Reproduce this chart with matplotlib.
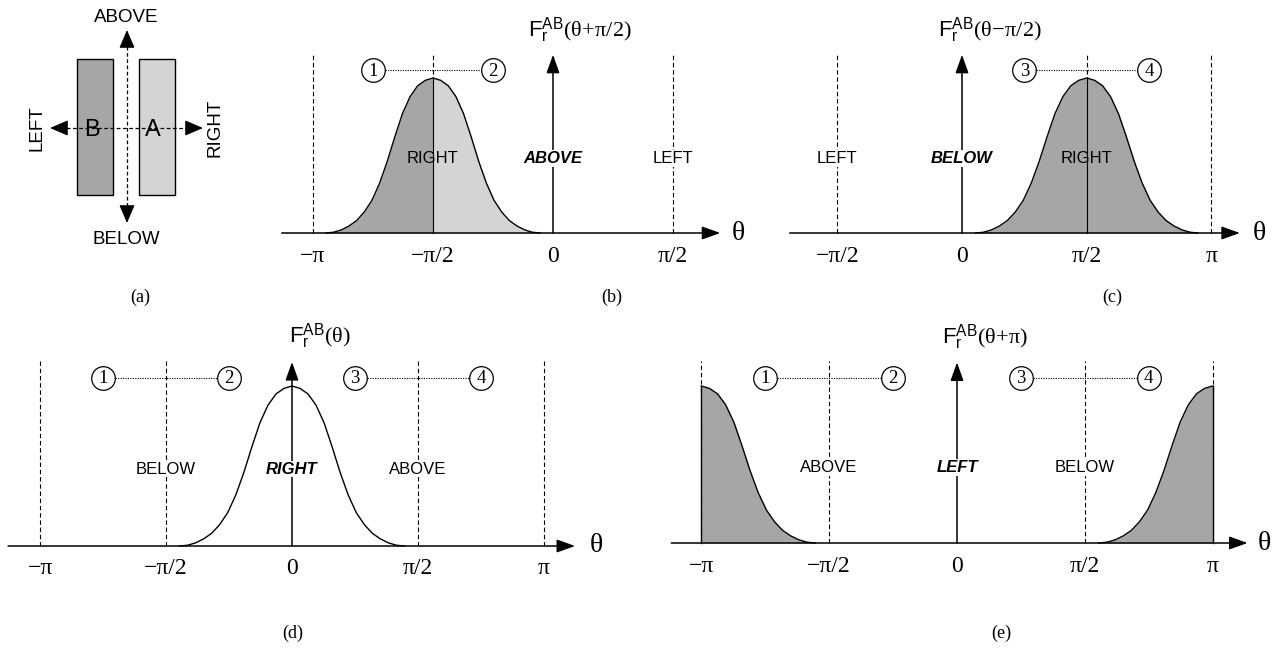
import numpy as np
import matplotlib
matplotlib.use('Agg')
import matplotlib.pyplot as plt
from matplotlib.patches import Rectangle

plt.rcParams['font.family'] = ['Liberation Sans', 'DejaVu Sans']
plt.rcParams['mathtext.fontset'] = 'custom'
plt.rcParams['mathtext.rm'] = 'Liberation Serif'
plt.rcParams['mathtext.sf'] = 'Liberation Sans'
plt.rcParams['mathtext.it'] = 'Liberation Serif:italic'

PI = np.pi
W, H = 1275, 648

# histogram of forces F_r^AB around its maximum:
# offset from the peak (rad) and normalised value
offset = np.array([0.0, 0.1, 0.2, 0.3, 0.4, 0.5, 0.6, 0.7,
                   0.8, 0.9, 1.0, 1.1, 1.2, 1.3, 1.4])
force = np.array([1.0, 0.985, 0.95, 0.88, 0.77, 0.62, 0.46, 0.32,
                  0.21, 0.135, 0.08, 0.045, 0.02, 0.005, 0.0])

# circled marks 1..4 sit at -3pi/4, -pi/4, pi/4, 3pi/4
mark_pos = [-3 * PI / 4, -PI / 4, PI / 4, 3 * PI / 4]
mark_txt = ['1', '2', '3', '4']

# panel (b): F(theta + pi/2)
b_peaks = [-PI / 2]
b_ticks = [-PI, -PI / 2, 0, PI / 2]
b_labels = ['\u2212\u03c0', '\u2212\u03c0/2', '0', '\u03c0/2']
b_regions = [('RIGHT', -PI / 2, False), ('ABOVE', 0, True), ('LEFT', PI / 2, False)]
b_marks = [0, 1]

# panel (c): F(theta - pi/2)
c_peaks = [PI / 2]
c_ticks = [-PI / 2, 0, PI / 2, PI]
c_labels = ['\u2212\u03c0/2', '0', '\u03c0/2', '\u03c0']
c_regions = [('LEFT', -PI / 2, False), ('BELOW', 0, True), ('RIGHT', PI / 2, False)]
c_marks = [2, 3]

# panel (d): F(theta)
d_peaks = [0]
d_ticks = [-PI, -PI / 2, 0, PI / 2, PI]
d_labels = ['\u2212\u03c0', '\u2212\u03c0/2', '0', '\u03c0/2', '\u03c0']
d_regions = [('BELOW', -PI / 2, False), ('RIGHT', 0, True), ('ABOVE', PI / 2, False)]
d_marks = [0, 1, 2, 3]

# panel (e): F(theta + pi), peak split over -pi and pi
e_peaks = [-PI, PI]
e_ticks = d_ticks
e_labels = d_labels
e_regions = [('ABOVE', -PI / 2, False), ('LEFT', 0, True), ('BELOW', PI / 2, False)]
e_marks = [0, 1, 2, 3]

DARK = '#a6a6a6'
LIGHT = '#d4d4d4'

fig = plt.figure(figsize=(W / 100, H / 100), dpi=100)


def panel_axes(ox, oy, sx, sy, xlim, ylim):
    # ox, oy: pixel position of the origin, sx, sy: pixels per unit
    left = (ox + xlim[0] * sx) / W
    bottom = (H - oy + ylim[0] * sy) / H
    ax = fig.add_axes([left, bottom, (xlim[1] - xlim[0]) * sx / W,
                       (ylim[1] - ylim[0]) * sy / H])
    ax.set_xlim(xlim)
    ax.set_ylim(ylim)
    ax.axis('off')
    return ax


def arrow(ax, start, tip, lw=1.1):
    ax.annotate('', xy=tip, xytext=start,
                arrowprops=dict(arrowstyle='-|>,head_length=0.7,head_width=0.25',
                                mutation_scale=16, lw=lw, color='k',
                                shrinkA=0, shrinkB=0))


def peak_curve(center, side=0):
    if side > 0:
        return center + offset, force
    if side < 0:
        return center - offset[::-1], force[::-1]
    th = np.concatenate([center - offset[::-1], center + offset[1:]])
    f = np.concatenate([force[::-1], force[1:]])
    return th, f


def draw_panel(lay, peaks, ticks, labels, regions, marks, arg, caption, style):
    ax = panel_axes(lay['ox'], lay['oy'], lay['sx'], lay['sy'],
                    lay['xlim'], lay['ylim'])
    top = 1.16
    # dashed guides at the non-zero ticks
    for t in ticks:
        if t != 0:
            ax.plot([t, t], [0, top], ls=(0, (4, 2.5)), lw=0.8, color='k', zorder=1)

    if style == 'split':
        th, f = peak_curve(peaks[0])
        c = peaks[0]
        ax.fill_between(th, 0, f, where=th <= c + 1e-9, color=DARK, lw=0, zorder=2)
        ax.fill_between(th, 0, f, where=th >= c - 1e-9, color=LIGHT, lw=0, zorder=2)
        ax.plot(th, f, color='k', lw=1.0, zorder=3)
        ax.plot([c, c], [0, 1], color='k', lw=0.8, zorder=3)
    elif style == 'fill':
        th, f = peak_curve(peaks[0])
        c = peaks[0]
        ax.fill_between(th, 0, f, color=DARK, lw=0, zorder=2)
        ax.plot(th, f, color='k', lw=1.0, zorder=3)
        ax.plot([c, c], [0, 1], color='k', lw=0.8, zorder=3)
    elif style == 'line':
        th, f = peak_curve(peaks[0])
        ax.plot(th, f, color='k', lw=1.0, zorder=3)
    else:
        for c, side in zip(peaks, [1, -1]):
            th, f = peak_curve(c, side)
            ax.fill_between(th, 0, f, color=DARK, lw=0, zorder=2)
            ax.plot(th, f, color='k', lw=1.0, zorder=3)
            ax.plot([c, c], [0, 1], color='k', lw=1.0, zorder=3)

    # theta axis and force axis
    arrow(ax, (lay['axis'][0], 0), (lay['axis'][1], 0))
    ax.text(lay['theta_x'], 0, '\u03b8', fontsize=20, family='Liberation Serif',
            ha='center', va='center')
    arrow(ax, (0, 0), (0, 1.15))
    ax.text(0.35, 1.31,
            r'$\mathsf{F}_{\mathsf{r}}^{\mathsf{AB}}\mathrm{(\theta' + arg + r')}$',
            fontsize=16, ha='center', va='center')

    for t, lab in zip(ticks, labels):
        ax.text(t, -23 / lay['sy'], lab, fontsize=17, family='Liberation Serif',
                ha='center', va='center')

    for name, x, bold in regions:
        inside = np.any([abs(x - c) < 0.5 for c in peaks]) and style != 'line'
        bbox = None if inside else dict(fc='white', ec='none', pad=0.5)
        ax.text(x, 0.48, name, fontsize=12, ha='center', va='center',
                fontweight='bold' if bold else 'normal',
                style='italic' if bold else 'normal', bbox=bbox, zorder=5)

    y_mark = 1.05
    for i in range(0, len(marks), 2):
        x1, x2 = mark_pos[marks[i]], mark_pos[marks[i + 1]]
        ax.plot([x1, x2], [y_mark, y_mark], ls=(0, (1, 1.2)), lw=0.8, color='k', zorder=4)
    for m in marks:
        ax.plot(mark_pos[m], y_mark, 'o', ms=17, mfc='white', mec='k', mew=0.9, zorder=6)
        ax.text(mark_pos[m], y_mark - 0.005, mark_txt[m], fontsize=13.5,
                family='Liberation Serif', ha='center', va='center', zorder=7)

    ax.text(lay['cap'][0], lay['cap'][1], caption, fontsize=13,
            family='Liberation Serif', ha='center', va='center')


lay_b = dict(ox=553, oy=233, sx=76.4, sy=155, xlim=(-3.7, 2.71), ylim=(-0.5, 1.45),
             axis=(-3.55, 2.19), theta_x=2.43, cap=(0.77, -0.413))
lay_c = dict(ox=962, oy=233, sx=79.4, sy=155, xlim=(-2.2, 3.94), ylim=(-0.5, 1.45),
             axis=(-2.17, 3.50), theta_x=3.75, cap=(1.89, -0.413))
lay_d = dict(ox=292, oy=546, sx=80.2, sy=160, xlim=(-3.64, 4.0), ylim=(-0.65, 1.45),
             axis=(-3.54, 3.53), theta_x=3.79, cap=(0.01, -0.544))
lay_e = dict(ox=957, oy=543, sx=81.4, sy=157, xlim=(-3.9, 3.9), ylim=(-0.65, 1.45),
             axis=(-3.51, 3.57), theta_x=3.77, cap=(0.55, -0.573))

draw_panel(lay_b, b_peaks, b_ticks, b_labels, b_regions, b_marks, r'\!+\!\pi/2', '(b)', 'split')
draw_panel(lay_c, c_peaks, c_ticks, c_labels, c_regions, c_marks, r'\!-\!\pi/2', '(c)', 'fill')
draw_panel(lay_d, d_peaks, d_ticks, d_labels, d_regions, d_marks, '', '(d)', 'line')
draw_panel(lay_e, e_peaks, e_ticks, e_labels, e_regions, e_marks, r'\!+\!\pi', '(e)', 'edges')

# panel (a): the two objects and the four directions, in pixel units
ax = fig.add_axes([0, 0, 260 / W, 1])
ax.set_xlim(0, 260)
ax.set_ylim(H, 0)
ax.axis('off')
ax.add_patch(Rectangle((77, 59), 36, 136, fc=DARK, ec='k', lw=1.0, zorder=1))
ax.add_patch(Rectangle((139, 59), 36, 136, fc=LIGHT, ec='k', lw=1.0, zorder=1))
cx, cy = 127, 128
dash = (0, (3, 2))
ax.plot([cx, cx], [40, 213], ls=dash, lw=0.9, color='k', zorder=2)
ax.plot([60, 193], [cy, cy], ls=dash, lw=0.9, color='k', zorder=2)
for tip, back in [((cx, 30), (cx, 46)), ((cx, 223), (cx, 207)),
                  ((50, cy), (66, cy)), ((203, cy), (187, cy))]:
    ax.annotate('', xy=tip, xytext=back,
                arrowprops=dict(arrowstyle='-|>,head_length=0.7,head_width=0.3',
                                mutation_scale=16, lw=0.9, color='k',
                                shrinkA=0, shrinkB=0), zorder=3)
ax.text(92, 130, 'B', fontsize=17, ha='center', va='center', zorder=4)
ax.text(153, 130, 'A', fontsize=17, ha='center', va='center', zorder=4)
ax.text(126, 17, 'ABOVE', fontsize=13.5, ha='center', va='center')
ax.text(126, 239, 'BELOW', fontsize=13.5, ha='center', va='center')
ax.text(37, 128, 'LEFT', fontsize=13.5, ha='center', va='center', rotation=90)
ax.text(215, 128, 'RIGHT', fontsize=13.5, ha='center', va='center', rotation=90)
ax.text(140, 297, '(a)', fontsize=13, family='Liberation Serif', ha='center', va='center')

fig.savefig('out.png', dpi=100)
